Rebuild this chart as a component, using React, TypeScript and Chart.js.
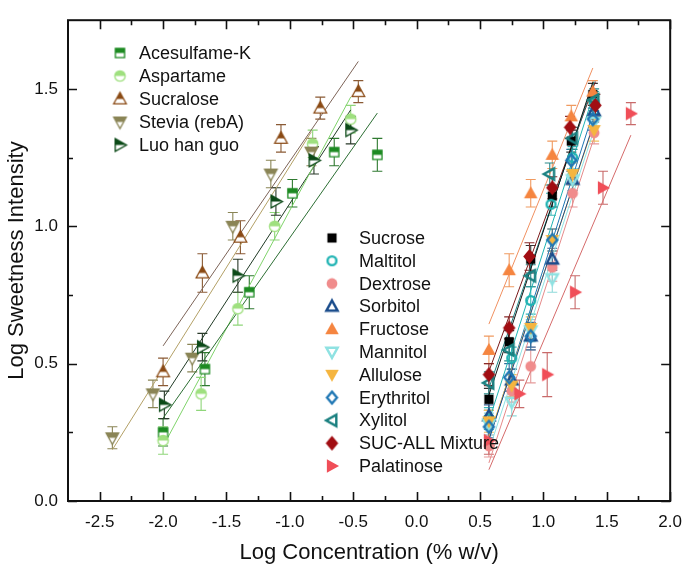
import React, { useEffect, useRef } from 'react';
import { Chart, registerables } from 'chart.js';
Chart.register(...registerables);

const FONT = '"Liberation Sans", Arial, Helvetica, sans-serif';

// ---- axis ticks ----
const xTickValues = [-2.5, -2.0, -1.5, -1.0, -0.5, 0.0, 0.5, 1.0, 1.5, 2.0];
const xMinorValues = [-2.25, -1.75, -1.25, -0.75, -0.25, 0.25, 0.75, 1.25, 1.75];
const yTickValues = [0.0, 0.5, 1.0, 1.5];
const yMinorValues = [0.25, 0.75, 1.25];

// ---- high-potency sweeteners ----
const aceKX = [-2.0, -1.67, -1.32, -0.98, -0.65, -0.31];
const aceKY = [0.25, 0.48, 0.76, 1.12, 1.27, 1.26];
const aceKErr = [0.05, 0.06, 0.06, 0.05, 0.05, 0.06];

const aspX = [-2.0, -1.7, -1.41, -1.12, -0.82, -0.52];
const aspY = [0.22, 0.39, 0.7, 1.0, 1.3, 1.39];
const aspErr = [0.05, 0.06, 0.06, 0.05, 0.05, 0.05];

const sucraX = [-2.0, -1.69, -1.39, -1.07, -0.76, -0.46];
const sucraY = [0.47, 0.83, 0.96, 1.32, 1.43, 1.49];
const sucraErr = [0.05, 0.07, 0.06, 0.05, 0.04, 0.04];

const steviaX = [-2.4, -2.08, -1.77, -1.45, -1.15, -0.83];
const steviaY = [0.23, 0.39, 0.52, 1.0, 1.19, 1.27];
const steviaErr = [0.04, 0.05, 0.05, 0.05, 0.05, 0.05];

const luoX = [-1.99, -1.69, -1.41, -1.11, -0.81, -0.52];
const luoY = [0.35, 0.56, 0.82, 1.09, 1.24, 1.35];
const luoErr = [0.05, 0.05, 0.06, 0.05, 0.05, 0.05];

// ---- bulk sweeteners ----
const sucroseX = [0.57, 0.73, 0.9, 1.07, 1.22, 1.39];
const sucroseY = [0.37, 0.58, 0.88, 1.11, 1.31, 1.48];
const sucroseErr = [0.04, 0.04, 0.05, 0.04, 0.04, 0.04];

const maltitolX = [0.57, 0.75, 0.9, 1.06, 1.23, 1.4];
const maltitolY = [0.3, 0.52, 0.73, 1.08, 1.25, 1.45];
const maltitolErr = [0.04, 0.04, 0.05, 0.04, 0.04, 0.04];

const dextroseX = [0.57, 0.75, 0.9, 1.07, 1.23, 1.4];
const dextroseY = [0.2, 0.4, 0.49, 0.85, 1.12, 1.34];
const dextroseErr = [0.04, 0.04, 0.06, 0.05, 0.05, 0.04];

const sorbitolX = [0.57, 0.75, 0.9, 1.07, 1.23, 1.4];
const sorbitolY = [0.31, 0.44, 0.6, 0.88, 1.17, 1.42];
const sorbitolErr = [0.04, 0.04, 0.04, 0.04, 0.04, 0.04];

const fructoseX = [0.57, 0.73, 0.9, 1.07, 1.22, 1.39];
const fructoseY = [0.55, 0.84, 1.12, 1.26, 1.4, 1.49];
const fructoseErr = [0.05, 0.06, 0.05, 0.05, 0.04, 0.04];

const mannitolX = [0.57, 0.75, 0.9, 1.07, 1.23, 1.4];
const mannitolY = [0.28, 0.36, 0.62, 0.81, 1.17, 1.38];
const mannitolErr = [0.04, 0.05, 0.04, 0.05, 0.04, 0.04];

const alluloseX = [0.57, 0.75, 0.9, 1.07, 1.23, 1.4];
const alluloseY = [0.29, 0.42, 0.63, 0.95, 1.19, 1.35];
const alluloseErr = [0.04, 0.04, 0.04, 0.04, 0.04, 0.04];

const erythritolX = [0.57, 0.73, 0.9, 1.07, 1.22, 1.39];
const erythritolY = [0.27, 0.45, 0.6, 0.95, 1.24, 1.39];
const erythritolErr = [0.04, 0.05, 0.05, 0.04, 0.04, 0.04];

const xylitolX = [0.57, 0.73, 0.9, 1.05, 1.23, 1.4];
const xylitolY = [0.43, 0.55, 0.82, 1.19, 1.32, 1.46];
const xylitolErr = [0.04, 0.04, 0.04, 0.04, 0.04, 0.04];

const sucAllX = [0.57, 0.73, 0.89, 1.07, 1.21, 1.41];
const sucAllY = [0.46, 0.63, 0.89, 1.14, 1.36, 1.44];
const sucAllErr = [0.04, 0.04, 0.05, 0.04, 0.04, 0.04];

const palatinoseX = [0.57, 0.81, 1.03, 1.25, 1.47, 1.69];
const palatinoseY = [0.22, 0.39, 0.46, 0.76, 1.14, 1.41];
const palatinoseErr = [0.05, 0.05, 0.08, 0.06, 0.06, 0.04];

type Shape = 'square' | 'circle' | 'triUp' | 'triDown' | 'triLeft' | 'triRight' | 'diamond';
type Fill = 'half' | 'full' | 'open';

interface Series {
  name: string;
  x: number[];
  y: number[];
  err: number[];
  color: string;
  errColor: string;
  lineColor: string;
  shape: Shape;
  fill: Fill;
  r: number;
  group: 0 | 1;
}

const leftSeries: Series[] = [
  { name: 'Acesulfame-K', x: aceKX, y: aceKY, err: aceKErr, color: '#1d8a22', errColor: '#2f7a30', lineColor: '#2c6e33', shape: 'square', fill: 'half', r: 4.6, group: 0 },
  { name: 'Aspartame', x: aspX, y: aspY, err: aspErr, color: '#9fe07f', errColor: '#8fd67a', lineColor: '#7fd36a', shape: 'circle', fill: 'half', r: 5.2, group: 0 },
  { name: 'Sucralose', x: sucraX, y: sucraY, err: sucraErr, color: '#8a4a14', errColor: '#8a5a34', lineColor: '#7d6458', shape: 'triUp', fill: 'half', r: 6, group: 0 },
  { name: 'Stevia (rebA)', x: steviaX, y: steviaY, err: steviaErr, color: '#8a8556', errColor: '#8a8556', lineColor: '#b3a066', shape: 'triDown', fill: 'half', r: 6, group: 0 },
  { name: 'Luo han guo', x: luoX, y: luoY, err: luoErr, color: '#0c4a18', errColor: '#2a3a2a', lineColor: '#203a25', shape: 'triRight', fill: 'half', r: 6, group: 0 },
];

const rightSeries: Series[] = [
  { name: 'Sucrose', x: sucroseX, y: sucroseY, err: sucroseErr, color: '#000000', errColor: '#333333', lineColor: '#111111', shape: 'square', fill: 'full', r: 4.6, group: 1 },
  { name: 'Maltitol', x: maltitolX, y: maltitolY, err: maltitolErr, color: '#1fb3b3', errColor: '#3ab8b8', lineColor: '#1fb3b3', shape: 'circle', fill: 'open', r: 4.4, group: 1 },
  { name: 'Dextrose', x: dextroseX, y: dextroseY, err: dextroseErr, color: '#f08c8c', errColor: '#e59a9a', lineColor: '#e58a8a', shape: 'circle', fill: 'full', r: 5.4, group: 1 },
  { name: 'Sorbitol', x: sorbitolX, y: sorbitolY, err: sorbitolErr, color: '#1b4d8c', errColor: '#3a5f8f', lineColor: '#1b4d8c', shape: 'triUp', fill: 'open', r: 5.4, group: 1 },
  { name: 'Fructose', x: fructoseX, y: fructoseY, err: fructoseErr, color: '#f58540', errColor: '#f09a60', lineColor: '#f09060', shape: 'triUp', fill: 'full', r: 6.4, group: 1 },
  { name: 'Mannitol', x: mannitolX, y: mannitolY, err: mannitolErr, color: '#8fe2e2', errColor: '#8fdada', lineColor: '#8fe2e2', shape: 'triDown', fill: 'open', r: 5.4, group: 1 },
  { name: 'Allulose', x: alluloseX, y: alluloseY, err: alluloseErr, color: '#f5b53f', errColor: '#f0c060', lineColor: '#f5b53f', shape: 'triDown', fill: 'full', r: 6.4, group: 1 },
  { name: 'Erythritol', x: erythritolX, y: erythritolY, err: erythritolErr, color: '#1f77b4', errColor: '#2f6f9f', lineColor: '#1f77b4', shape: 'diamond', fill: 'open', r: 5.2, group: 1 },
  { name: 'Xylitol', x: xylitolX, y: xylitolY, err: xylitolErr, color: '#1a8080', errColor: '#2a8a8a', lineColor: '#1a8080', shape: 'triLeft', fill: 'open', r: 5.4, group: 1 },
  { name: 'SUC-ALL Mixture', x: sucAllX, y: sucAllY, err: sucAllErr, color: '#a10d12', errColor: '#8a2a2a', lineColor: '#7a1a1a', shape: 'diamond', fill: 'full', r: 6.6, group: 1 },
  { name: 'Palatinose', x: palatinoseX, y: palatinoseY, err: palatinoseErr, color: '#f04e58', errColor: '#c86a6a', lineColor: '#d56a6a', shape: 'triRight', fill: 'full', r: 6.4, group: 1 },
];

const allSeries = [...leftSeries, ...rightSeries];

function tracePath(ctx: CanvasRenderingContext2D, shape: Shape, cx: number, cy: number, r: number) {
  ctx.beginPath();
  switch (shape) {
    case 'square':
      ctx.rect(cx - r, cy - r, 2 * r, 2 * r);
      break;
    case 'circle':
      ctx.arc(cx, cy, r, 0, Math.PI * 2);
      break;
    case 'triUp':
      ctx.moveTo(cx, cy - r * 1.1);
      ctx.lineTo(cx + r * 1.05, cy + r * 0.8);
      ctx.lineTo(cx - r * 1.05, cy + r * 0.8);
      ctx.closePath();
      break;
    case 'triDown':
      ctx.moveTo(cx, cy + r * 1.1);
      ctx.lineTo(cx + r * 1.05, cy - r * 0.8);
      ctx.lineTo(cx - r * 1.05, cy - r * 0.8);
      ctx.closePath();
      break;
    case 'triRight':
      ctx.moveTo(cx + r * 1.1, cy);
      ctx.lineTo(cx - r * 0.8, cy - r * 1.05);
      ctx.lineTo(cx - r * 0.8, cy + r * 1.05);
      ctx.closePath();
      break;
    case 'triLeft':
      ctx.moveTo(cx - r * 1.1, cy);
      ctx.lineTo(cx + r * 0.8, cy - r * 1.05);
      ctx.lineTo(cx + r * 0.8, cy + r * 1.05);
      ctx.closePath();
      break;
    case 'diamond':
      ctx.moveTo(cx, cy - r * 1.15);
      ctx.lineTo(cx + r * 0.95, cy);
      ctx.lineTo(cx, cy + r * 1.15);
      ctx.lineTo(cx - r * 0.95, cy);
      ctx.closePath();
      break;
  }
}

function makeMarker(s: Series): HTMLCanvasElement {
  const size = Math.ceil(s.r * 2.8 + 6);
  const cv = document.createElement('canvas');
  cv.width = size;
  cv.height = size;
  const ctx = cv.getContext('2d')!;
  const c = size / 2;
  if (s.fill === 'full') {
    tracePath(ctx, s.shape, c, c, s.r);
    ctx.fillStyle = s.color;
    ctx.fill();
  } else if (s.fill === 'half') {
    tracePath(ctx, s.shape, c, c, s.r);
    ctx.fillStyle = '#ffffff';
    ctx.fill();
    ctx.save();
    ctx.beginPath();
    ctx.rect(0, 0, size, c);
    ctx.clip();
    tracePath(ctx, s.shape, c, c, s.r);
    ctx.fillStyle = s.color;
    ctx.fill();
    ctx.restore();
    tracePath(ctx, s.shape, c, c, s.r);
    ctx.strokeStyle = s.color;
    ctx.lineWidth = 1.3;
    ctx.stroke();
  } else {
    tracePath(ctx, s.shape, c, c, s.r);
    ctx.strokeStyle = s.color;
    ctx.lineWidth = 2.4;
    ctx.stroke();
  }
  return cv;
}

function linFit(xs: number[], ys: number[]) {
  const n = xs.length;
  const mx = xs.reduce((a, b) => a + b, 0) / n;
  const my = ys.reduce((a, b) => a + b, 0) / n;
  let sxy = 0;
  let sxx = 0;
  for (let i = 0; i < n; i++) {
    sxy += (xs[i] - mx) * (ys[i] - my);
    sxx += (xs[i] - mx) * (xs[i] - mx);
  }
  const b = sxy / sxx;
  return { a: my - b * mx, b };
}

export default function App() {
  const ref = useRef<HTMLCanvasElement>(null);

  useEffect(() => {
    document.body.style.margin = '0';
    const canvas = ref.current;
    if (!canvas) return;
    const markers = allSeries.map(makeMarker);

    const datasets: any[] = [];
    allSeries.forEach((s) => {
      const f = linFit(s.x, s.y);
      const x0 = Math.min(...s.x);
      const x1 = Math.max(...s.x);
      datasets.push({
        type: 'line',
        data: [
          { x: x0, y: f.a + f.b * x0 },
          { x: x1, y: f.a + f.b * x1 },
        ],
        borderColor: s.lineColor,
        borderWidth: 1,
        pointRadius: 0,
        fill: false,
        order: 100,
        clip: false,
      });
    });
    allSeries.forEach((s, i) => {
      datasets.push({
        type: 'scatter',
        data: s.x.map((v, j) => ({ x: v, y: s.y[j] })),
        pointStyle: markers[i],
        pointRadius: 6,
        showLine: false,
        order: 60 - i,
        clip: false,
      });
    });

    const errorBars = {
      id: 'errorBars',
      beforeDatasetsDraw(chart: any) {
        const ctx = chart.ctx as CanvasRenderingContext2D;
        const xs = chart.scales.x;
        const ys = chart.scales.y;
        ctx.save();
        ctx.lineWidth = 1.1;
        allSeries.forEach((s) => {
          ctx.strokeStyle = s.errColor;
          s.x.forEach((v, j) => {
            const px = xs.getPixelForValue(v);
            const pt = ys.getPixelForValue(s.y[j] + s.err[j]);
            const pb = ys.getPixelForValue(s.y[j] - s.err[j]);
            ctx.beginPath();
            ctx.moveTo(px, pt);
            ctx.lineTo(px, pb);
            ctx.moveTo(px - 5, pt);
            ctx.lineTo(px + 5, pt);
            ctx.moveTo(px - 5, pb);
            ctx.lineTo(px + 5, pb);
            ctx.stroke();
          });
        });
        ctx.restore();
      },
    };

    const frame = {
      id: 'frameTicks',
      afterDatasetsDraw(chart: any) {
        const ctx = chart.ctx as CanvasRenderingContext2D;
        const { left, right, top, bottom } = chart.chartArea;
        const xs = chart.scales.x;
        const ys = chart.scales.y;
        ctx.save();
        ctx.strokeStyle = '#111';
        ctx.lineWidth = 1.6;
        const tick = (vals: number[], len: number) => {
          vals.forEach((v) => {
            const px = Math.round(xs.getPixelForValue(v)) + 0.5;
            ctx.beginPath();
            ctx.moveTo(px, bottom);
            ctx.lineTo(px, bottom - len);
            ctx.moveTo(px, top);
            ctx.lineTo(px, top + len);
            ctx.stroke();
          });
        };
        const tickY = (vals: number[], len: number) => {
          vals.forEach((v) => {
            const py = Math.round(ys.getPixelForValue(v)) + 0.5;
            ctx.beginPath();
            ctx.moveTo(left, py);
            ctx.lineTo(left + len, py);
            ctx.moveTo(right, py);
            ctx.lineTo(right - len, py);
            ctx.stroke();
          });
        };
        tick(xTickValues, 9);
        tick(xMinorValues, 5);
        tickY(yTickValues, 9);
        tickY(yMinorValues, 5);
        ctx.lineWidth = 2;
        ctx.strokeRect(left, top, right - left, bottom - top);
        ctx.restore();

        // legends
        ctx.save();
        ctx.font = `18px ${FONT}`;
        ctx.fillStyle = '#111';
        ctx.textBaseline = 'middle';
        ctx.textAlign = 'left';
        const drawGroup = (list: Series[], mx: number, tx: number, y0: number, step: number) => {
          list.forEach((s, k) => {
            const idx = allSeries.indexOf(s);
            const m = markers[idx];
            const y = y0 + k * step;
            ctx.drawImage(m, mx - m.width / 2, y - m.height / 2);
            ctx.fillText(s.name, tx, y + 1);
          });
        };
        drawGroup(leftSeries, 120, 139, 53, 23);
        drawGroup(rightSeries, 332, 359, 238, 22.8);
        ctx.restore();
      },
    };

    const chart = new Chart(canvas, {
      type: 'scatter',
      data: { datasets },
      options: {
        animation: false,
        responsive: false,
        events: [],
        layout: { padding: { top: 7, right: 18, left: 0, bottom: 0 } },
        plugins: { legend: { display: false }, tooltip: { enabled: false } },
        scales: {
          x: {
            type: 'linear',
            min: -2.75,
            max: 2.0,
            afterBuildTicks: (sc: any) => {
              sc.ticks = xTickValues.map((v) => ({ value: v }));
            },
            afterFit: (sc: any) => {
              sc.height = 72;
            },
            grid: { display: false, drawTicks: false },
            border: { display: false },
            ticks: {
              autoSkip: false,
              maxRotation: 0,
              padding: 11,
              color: '#111',
              font: { family: FONT, size: 17 },
              callback: (v: any) => Number(v).toFixed(1),
            },
            title: {
              display: true,
              text: 'Log Concentration (% w/v)',
              color: '#111',
              font: { family: FONT, size: 22 },
              padding: { top: 0, bottom: 7 },
            },
          },
          y: {
            type: 'linear',
            min: 0,
            max: 1.75,
            afterBuildTicks: (sc: any) => {
              sc.ticks = yTickValues.map((v) => ({ value: v }));
            },
            afterFit: (sc: any) => {
              sc.width = 68;
            },
            grid: { display: false, drawTicks: false },
            border: { display: false },
            ticks: {
              autoSkip: false,
              padding: 10,
              color: '#111',
              font: { family: FONT, size: 17 },
              callback: (v: any) => Number(v).toFixed(1),
            },
            title: {
              display: true,
              text: 'Log Sweetness Intensity',
              color: '#111',
              font: { family: FONT, size: 22 },
              padding: { top: 4, bottom: 0 },
            },
          },
        },
      },
      plugins: [errorBars, frame],
    } as any);

    return () => {
      chart.destroy();
    };
  }, []);

  return (
    <div style={{ width: 693, height: 573 }}>
      <canvas ref={ref} width={693} height={573} style={{ display: 'block' }} />
    </div>
  );
}
